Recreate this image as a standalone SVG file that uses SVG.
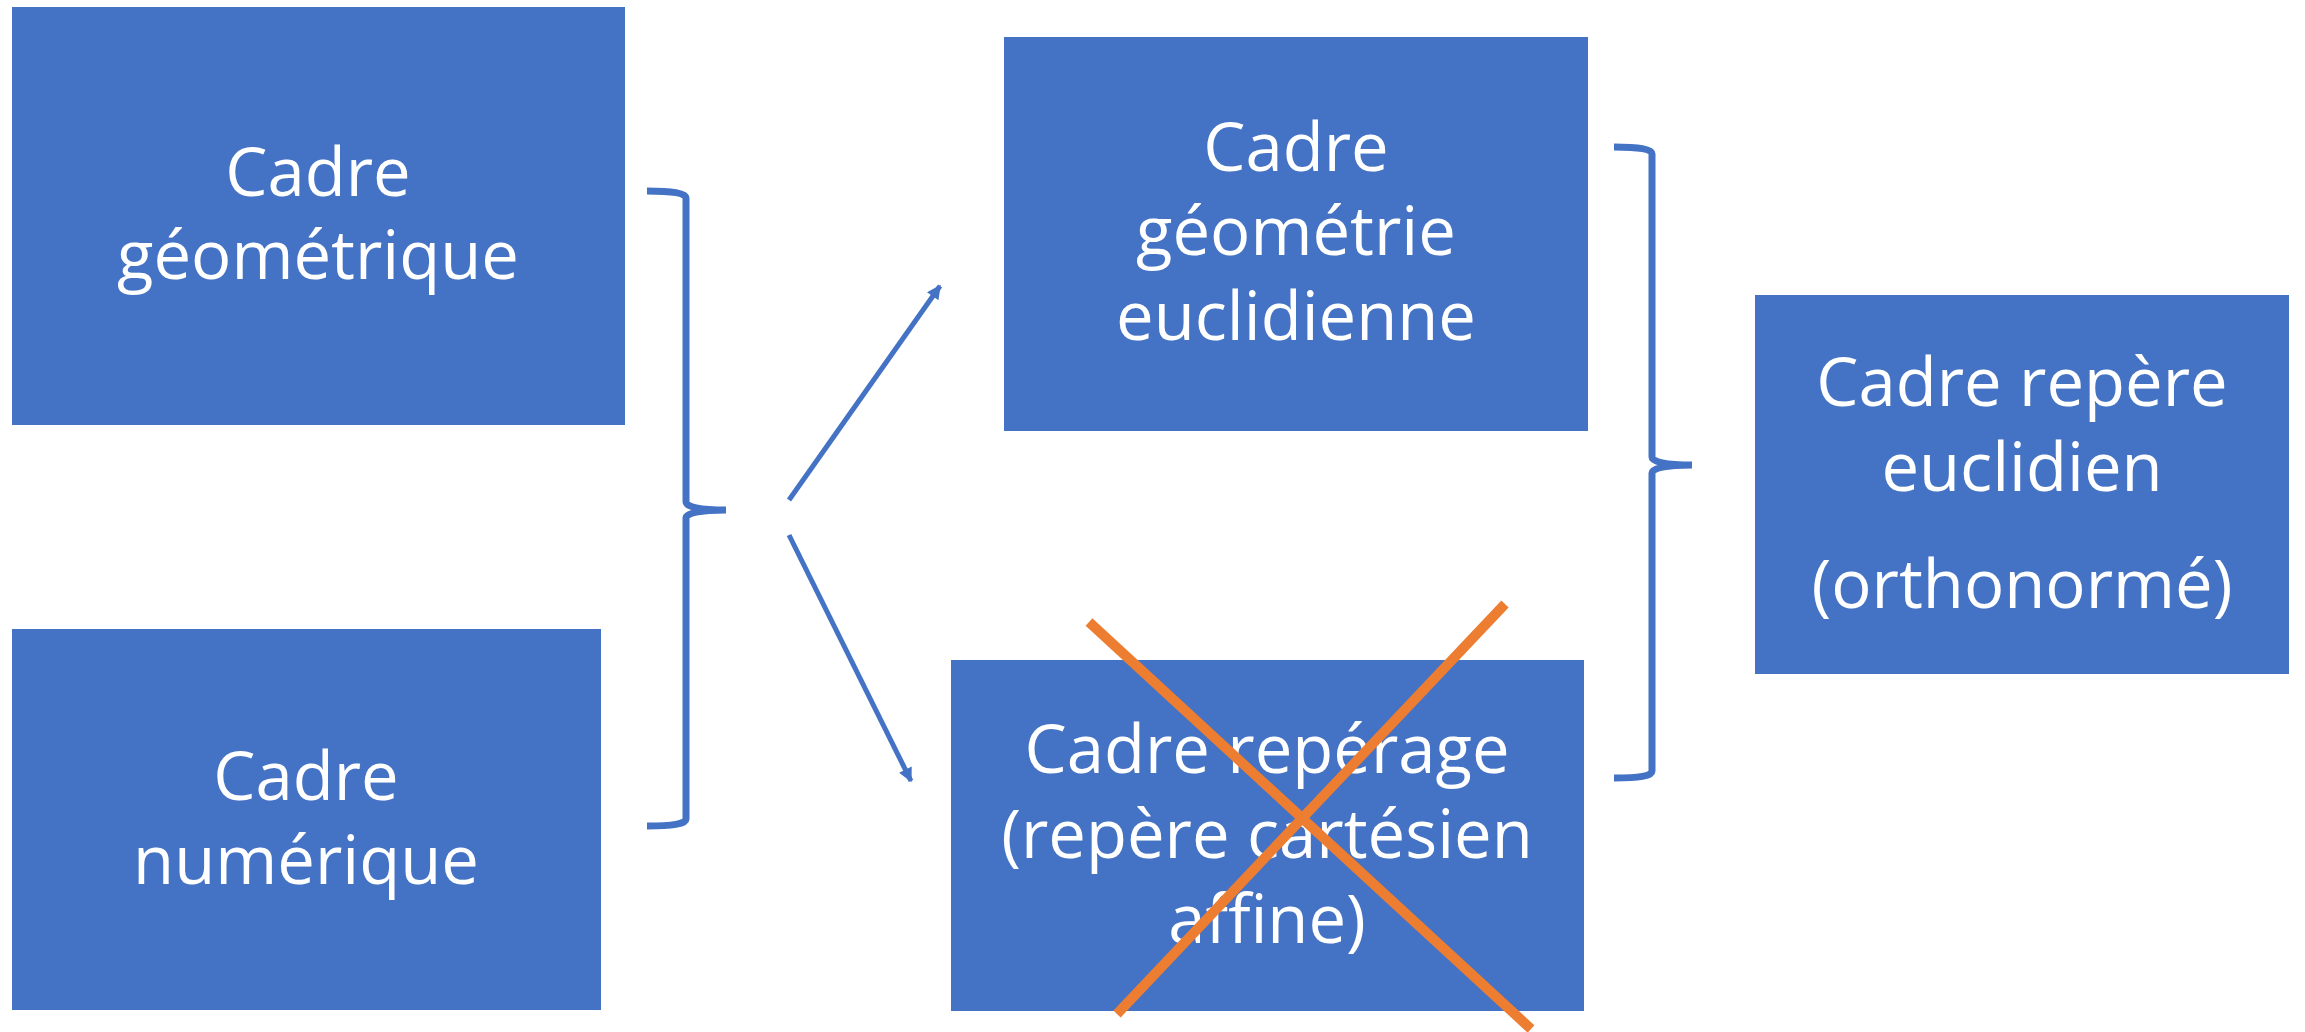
<svg xmlns="http://www.w3.org/2000/svg" width="2305" height="1032" viewBox="0 0 2305 1032">
<style>
.box{fill:#4472C4;}
.lbl{font-family:"Open Sans","Liberation Sans",sans-serif;font-size:67px;fill:#FFFFFF;text-anchor:middle;}
.brace{fill:none;stroke:#4472C4;stroke-width:7;}
.arr{fill:none;stroke:#4472C4;stroke-width:5;marker-end:url(#ah);}
.cross{stroke:#ED7D31;stroke-width:10;}
</style>
<defs>
<marker id="ah" viewBox="0 0 10 10" refX="9" refY="5" markerWidth="18" markerHeight="14" markerUnits="userSpaceOnUse" orient="auto">
<path d="M0,0 L10,5 L0,10 Z" fill="#4472C4"/>
</marker>
</defs>
<g id="node-geometrique">
<rect class="box" x="12" y="7" width="613" height="418"/>
<text class="lbl" x="318" y="196">Cadre</text>
<text class="lbl" x="318" y="279">géométrique</text>
</g>
<g id="node-numerique">
<rect class="box" x="12" y="629" width="589" height="381"/>
<text class="lbl" x="306" y="800">Cadre</text>
<text class="lbl" x="306" y="884">numérique</text>
</g>
<g id="node-euclidienne">
<rect class="box" x="1004" y="37" width="584" height="394"/>
<text class="lbl" x="1296" y="171">Cadre</text>
<text class="lbl" x="1296" y="255">géométrie</text>
<text class="lbl" x="1296" y="340">euclidienne</text>
</g>
<g id="node-reperage">
<rect class="box" x="951" y="660" width="633" height="351"/>
<text class="lbl" x="1267" y="773">Cadre repérage</text>
<text class="lbl" x="1267" y="858">(repère cartésien</text>
<text class="lbl" x="1267" y="943">affine)</text>
</g>
<g id="node-repere-euclidien">
<rect class="box" x="1755" y="295" width="534" height="379"/>
<text class="lbl" x="2022" y="406">Cadre repère</text>
<text class="lbl" x="2022" y="491">euclidien</text>
<text class="lbl" x="2022" y="608">(orthonormé)</text>
</g>
<g id="connectors">
<path class="brace" d="M647,191 C672,191 686,193 686,198 L686,502 C686,507 700,510 726,510 C700,510 686,513 686,518 L686,819 C686,824 672,826 647,826"/>
<path class="brace" d="M1614,147 C1639,147 1652,149 1652,154 L1652,457 C1652,462 1666,465 1692,465 C1666,465 1652,468 1652,473 L1652,771 C1652,776 1639,778 1614,778"/>
<line class="arr" x1="789" y1="500" x2="940" y2="286"/>
<line class="arr" x1="789" y1="535" x2="911" y2="781"/>
</g>
<g id="cross">
<line class="cross" x1="1089" y1="622" x2="1531" y2="1029"/>
<line class="cross" x1="1505" y1="604" x2="1117" y2="1014"/>
</g>
</svg>
